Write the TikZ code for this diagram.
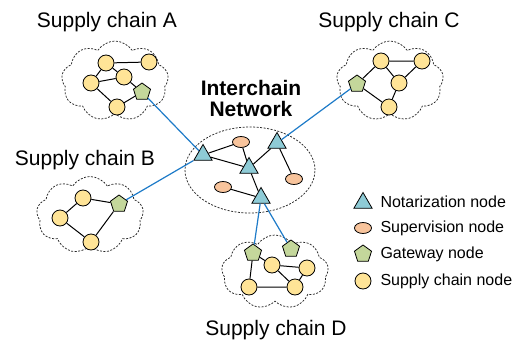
\documentclass[tikz,border=0pt]{standalone}
\usepackage{fontspec}
\setmainfont{Liberation Sans}
\usetikzlibrary{shapes.geometric,shapes.symbols}

\definecolor{scfill}{HTML}{FFE497}
\definecolor{gwfill}{HTML}{C4D79B}
\definecolor{ntfill}{HTML}{8ECBD6}
\definecolor{svfill}{HTML}{F8C49C}
\definecolor{linkblue}{HTML}{1E7BC8}

\begin{document}
\begin{tikzpicture}[
  x=1pt, y=-1pt,
  scnode/.style={circle, draw, line width=0.8pt, fill=scfill, minimum size=16pt, inner sep=0pt},
  gwnode/.style={regular polygon, regular polygon sides=5, draw, line width=0.8pt, fill=gwfill, minimum size=18pt, inner sep=0pt},
  ntnode/.style={regular polygon, regular polygon sides=3, draw, line width=0.8pt, fill=ntfill, minimum size=21pt, inner sep=0pt},
  svnode/.style={ellipse, draw, line width=0.8pt, fill=svfill, minimum width=17pt, minimum height=11pt, inner sep=0pt},
  chain/.style={cloud, cloud puffs=9, cloud puff arc=115, cloud ignores aspect, draw=black!85, line width=0.75pt,
    dash pattern=on 2pt off 1.5pt, minimum width=107pt, minimum height=80pt},
  bridge/.style={draw=linkblue, line width=1.2pt},
  tie/.style={line width=1pt},
  chainlabel/.style={font=\fontsize{21}{24}\selectfont},
  keytext/.style={font=\fontsize{16}{19}\selectfont, anchor=west},
]
\useasboundingbox (0,0) rectangle (520,343);

% clouds and the interchain ellipse
\node[chain] (cloudA) at (115,81) {};
\node[chain] (cloudC) at (390,81) {};
\node[chain, minimum height=77pt] (cloudB) at (90,215) {};
\node[chain, minimum height=74pt] (cloudD) at (275,272) {};
\node[ellipse, draw=black!85, line width=0.75pt, dash pattern=on 2pt off 1.5pt,
  minimum width=130pt, minimum height=86pt] (icn) at (250,170) {};

% titles
\node[chainlabel] (labA) at (107,22) {Supply chain A};
\node[chainlabel] (labC) at (389,22) {Supply chain C};
\node[chainlabel] (labB) at (85,160) {Supply chain B};
\node[chainlabel] (labD) at (276,330) {Supply chain D};
\node[chainlabel, font=\fontsize{21}{21}\bfseries, align=center] (labI) at (251,98) {Interchain\\Network};

% interchain network
\node[ntnode] (t1) at (203,155) {};
\node[ntnode] (t2) at (277,143) {};
\node[ntnode] (t3) at (249,168) {};
\node[ntnode] (t4) at (261,198) {};
\node[svnode] (s1) at (241,142) {};
\node[svnode] (s2) at (294,179) {};
\node[svnode] (s3) at (223,187) {};
\draw[tie] (t1) -- (s1) (t1) -- (t3) (s1) -- (t3) (t3) -- (t2)
  (t2) -- (s2) (t3) -- (t4) (s3) -- (t4);

% supply chain A
\node[scnode] (a1) at (106,63) {};
\node[scnode] (a2) at (149,62) {};
\node[scnode] (a3) at (124,77) {};
\node[scnode] (a4) at (91,83) {};
\node[scnode] (a5) at (117,107) {};
\node[gwnode] (ga) at (142,92) {};
\draw[tie] (a1) -- (a2) (a1) -- (a3) (a1) -- (a4) (a4) -- (a3)
  (a4) -- (a5) (a5) -- (ga) (a3) -- (ga);

% supply chain C
\node[scnode] (c1) at (381,61) {};
\node[scnode] (c2) at (422,61) {};
\node[scnode] (c3) at (399,83) {};
\node[scnode] (c4) at (389,107) {};
\node[gwnode] (gc) at (357,84) {};
\draw[tie] (gc) -- (c1) (c1) -- (c2) (c1) -- (c3) (c2) -- (c3)
  (c3) -- (c4) (gc) -- (c4);

% supply chain B
\node[scnode] (b1) at (83,198) {};
\node[scnode] (b2) at (60,218) {};
\node[scnode] (b3) at (91,242) {};
\node[gwnode] (gb) at (119,204) {};
\draw[tie] (b1) -- (b2) (b1) -- (gb) (b2) -- (b3) (b3) -- (gb);

% supply chain D
\node[gwnode] (gd1) at (253,253) {};
\node[gwnode] (gd2) at (291,249) {};
\node[scnode] (d1) at (272,265) {};
\node[scnode] (d2) at (307,268) {};
\node[scnode] (d3) at (249,287) {};
\node[scnode] (d4) at (295,287) {};
\draw[tie] (gd1) -- (d3) (gd1) -- (d1) (d1) -- (d2) (d1) -- (d4)
  (d3) -- (d4) (d2) -- (d4);

% gateway links
\draw[bridge] (ga) -- (t1);
\draw[bridge] (gb) -- (t1);
\draw[bridge] (gc) -- (t2);
\draw[bridge] (t4) -- (gd1);
\draw[bridge] (t4) -- (gd2);

% legend
\node[ntnode] (k1) at (363,203) {};
\node[svnode] (k2) at (363,228) {};
\node[gwnode] (k3) at (363,254) {};
\node[scnode] (k4) at (363,281) {};
\node[keytext] (k1t) at (377,202) {Notarization node};
\node[keytext] (k2t) at (377,228) {Supervision node};
\node[keytext] (k3t) at (377,254) {Gateway node};
\node[keytext] (k4t) at (377,281) {Supply chain node};
\end{tikzpicture}
\end{document}
